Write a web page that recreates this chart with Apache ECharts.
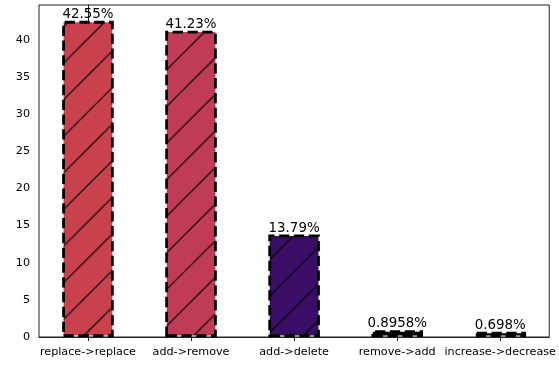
<!DOCTYPE html>
<html>
<head>
<meta charset="utf-8">
<script src="https://cdn.jsdelivr.net/npm/echarts@6/dist/echarts.min.js"></script>
<style>
  html, body { margin: 0; padding: 0; background: #fff; overflow: hidden; }
  #chart { width: 559px; height: 366px; }
</style>
</head>
<body>
<div id="chart"></div>
<script>
// Edit-type transition shares (percent)
const categories = ['replace->replace', 'add->remove', 'add->delete', 'remove->add', 'increase->decrease'];
const shares = [42.55, 41.23, 13.79, 0.8958, 0.698];
const barColors = ['#c8414c', '#c03b55', '#3a0e66', '#03010a', '#020108'];
const yTicks = [0, 5, 10, 15, 20, 25, 30, 35, 40];
const xTicks = [0, 1, 2, 3, 4];

// Solid fill with a "/" hatch on top. The 37px tile is scaled to a
// 36.6px period so the lines sit on x + y = 16.8 (mod 36.6) on the canvas.
function hatchPattern(fill) {
  const size = 37;
  const offset = 17;
  const period = 36.6;
  const c = document.createElement('canvas');
  c.width = size; c.height = size;
  const ctx = c.getContext('2d');
  ctx.fillStyle = fill;
  ctx.fillRect(0, 0, size, size);
  ctx.strokeStyle = '#000';
  ctx.lineWidth = 1.2;
  [offset, offset + size].forEach(k => {
    ctx.beginPath();
    ctx.moveTo(k + 3, -3);
    ctx.lineTo(-3, k + 3);
    ctx.stroke();
  });
  const s = period / size;
  return { image: c, repeat: 'repeat', scaleX: s, scaleY: s };
}

const chart = echarts.init(document.getElementById('chart'), null, { renderer: 'canvas' });
const font = 'DejaVu Sans';

chart.setOption({
  animation: false,
  grid: {
    left: 39, right: 9, top: 5, bottom: 29,
    show: true, borderColor: '#222', borderWidth: 1, backgroundColor: 'transparent'
  },
  xAxis: {
    type: 'value',
    min: -0.475, max: 4.475,
    splitLine: { show: false },
    axisLine: { show: true, lineStyle: { color: '#222', width: 1 } },
    axisTick: { show: true, length: 4, customValues: xTicks, lineStyle: { color: '#222' } },
    axisLabel: {
      customValues: xTicks,
      formatter: v => categories[Math.round(v)] || '',
      color: '#000', fontFamily: font, fontSize: 11.2, margin: 10
    }
  },
  yAxis: {
    type: 'value',
    min: 0, max: 44.68,
    splitLine: { show: false },
    axisLine: { show: true, lineStyle: { color: '#222', width: 1 } },
    axisTick: { show: true, length: 4, customValues: yTicks, lineStyle: { color: '#222' } },
    axisLabel: {
      customValues: yTicks,
      color: '#000', fontFamily: font, fontSize: 11.2, margin: 9
    }
  },
  series: [{
    type: 'bar',
    barWidth: 51.6,
    data: shares.map((v, i) => ({
      value: [i, v],
      itemStyle: { color: hatchPattern(barColors[i]) }
    })),
    itemStyle: {
      borderColor: '#000',
      borderWidth: 2.8,
      borderType: [10.3, 4.5]
    },
    label: {
      show: true,
      position: 'top',
      distance: 0,
      color: '#000',
      fontFamily: font,
      fontSize: 13.4,
      formatter: p => p.value[1] + '%'
    }
  }]
});
</script>
</body>
</html>
